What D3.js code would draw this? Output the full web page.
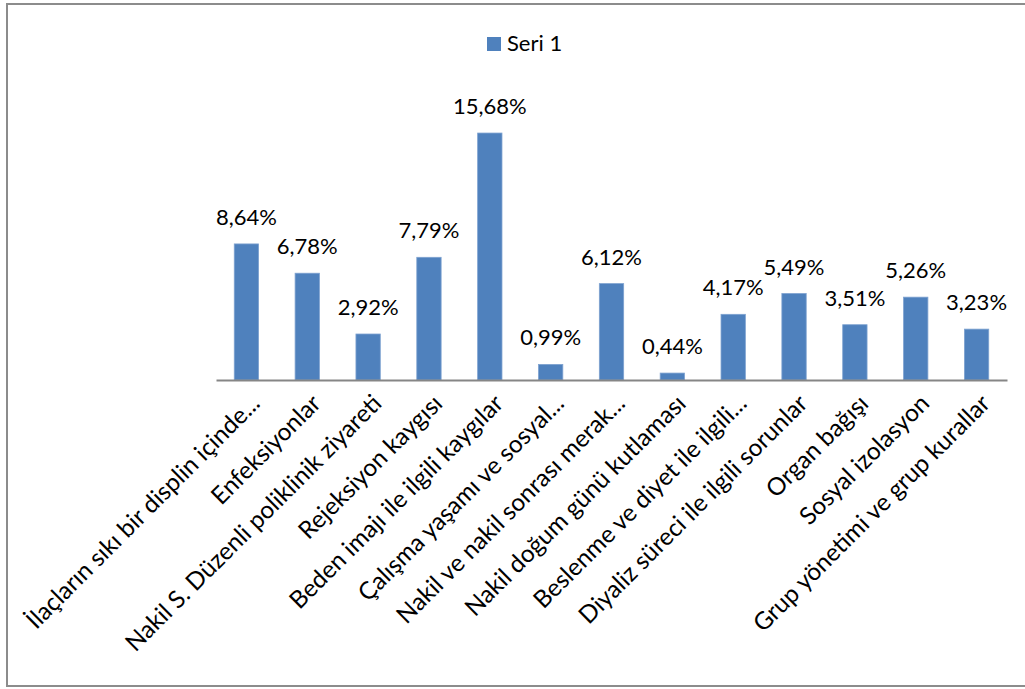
<!DOCTYPE html>
<html><head><meta charset="utf-8">
<script src="https://cdn.jsdelivr.net/npm/d3@7"></script>
<style>html,body{margin:0;padding:0;background:#fff;}svg{display:block;}</style>
</head><body>
<script>
const categories = [
  "İlaçların sıkı bir displin içinde...",
  "Enfeksiyonlar",
  "Nakil S. Düzenli poliklinik ziyareti",
  "Rejeksiyon kaygısı",
  "Beden imajı ile ilgili kaygılar",
  "Çalışma yaşamı ve sosyal...",
  "Nakil ve nakil sonrası merak...",
  "Nakil doğum günü kutlaması",
  "Beslenme ve diyet ile ilgili...",
  "Diyaliz süreci ile ilgili sorunlar",
  "Organ bağışı",
  "Sosyal izolasyon",
  "Grup yönetimi ve grup kurallar"
];
const values = [8.64, 6.78, 2.92, 7.79, 15.68, 0.99, 6.12, 0.44, 4.17, 5.49, 3.51, 5.26, 3.23];
const seriesName = "Seri 1";
const labelTexts = ["8,64%","6,78%","2,92%","7,79%","15,68%","0,99%","6,12%","0,44%","4,17%","5,49%","3,51%","5,26%","3,23%"];

const W = 1025, H = 689;
const FONT = "Lato, 'Open Sans', sans-serif";
const svg = d3.select("body").append("svg").attr("width", W).attr("height", H);

svg.append("rect").attr("x", 7).attr("y", 4).attr("width", W + 10).attr("height", 682)
  .attr("fill", "#fff").attr("stroke", "#8c8c8c").attr("stroke-width", 2);

const x = d3.scaleBand().domain(categories).range([216, 1007]).paddingInner(0.6).paddingOuter(0.3);
const y = d3.scaleLinear().domain([0, 18]).range([380, 96.5]);

svg.selectAll("rect.bar").data(values).enter().append("rect")
  .attr("class", "bar")
  .attr("x", (d, i) => x(categories[i]))
  .attr("width", x.bandwidth())
  .attr("y", d => y(d))
  .attr("height", d => y(0) - y(d))
  .attr("fill", "#4F81BD")
  .attr("stroke", "#7ea2d0").attr("stroke-width", 0.8);

const xAxis = d3.axisBottom(x).tickSize(0).tickPadding(0);
const gx = svg.append("g").attr("transform", "translate(0,380)").call(xAxis);
gx.select(".domain").attr("stroke", "#868686").attr("stroke-width", 2);
gx.selectAll(".tick text")
  .attr("font-family", FONT).attr("font-size", 24.3).attr("fill", "#000")
  .attr("text-anchor", "end")
  .attr("dy", null).attr("y", null)
  .attr("transform", "translate(15,25) rotate(-45)");

svg.selectAll("text.vlabel").data(values).enter().append("text")
  .attr("class", "vlabel")
  .attr("x", (d, i) => x(categories[i]) + x.bandwidth() / 2)
  .attr("y", d => y(d) - 19)
  .attr("text-anchor", "middle")
  .attr("font-family", FONT).attr("font-size", 22).attr("fill", "#000")
  .text((d, i) => labelTexts[i]);

const lg = svg.append("g");
lg.append("rect").attr("x", 487).attr("y", 37).attr("width", 14).attr("height", 14).attr("fill", "#4F81BD");
lg.append("text").attr("x", 507).attr("y", 51).attr("font-family", FONT).attr("font-size", 22)
  .attr("fill", "#000").text(seriesName);
</script>
</body></html>
